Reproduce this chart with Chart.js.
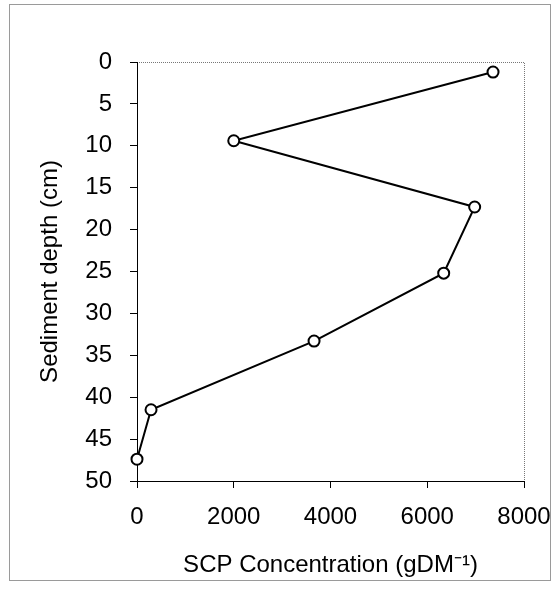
<!DOCTYPE html>
<html>
<head>
<meta charset="utf-8">
<script src="https://cdn.jsdelivr.net/npm/chart.js@4.4.0/dist/chart.umd.min.js"></script>
<style>
  html, body { margin: 0; padding: 0; background: #fff; }
  #wrap { width: 553px; height: 590px; }
</style>
</head>
<body>
<div id="wrap"><canvas id="scpChart" width="553" height="590"></canvas></div>
<script>
// SCP concentration profile
const concentration = [7360, 2000, 6980, 6340, 3660, 290, 0];
const depth = [1.2, 9.4, 17.3, 25.2, 33.3, 41.5, 47.4];
const xTicks = [0, 2000, 4000, 6000, 8000];
const yTicks = [0, 5, 10, 15, 20, 25, 30, 35, 40, 45, 50];

const FONT = 'Arial, "Liberation Sans", sans-serif';

// dotted top/right plot border + outer frame, like the Excel original
const frame = {
  id: 'frame',
  beforeDraw(chart) {
    const c = chart.ctx, a = chart.chartArea;
    c.save();
    c.strokeStyle = '#9a9a9a';
    c.lineWidth = 1;
    c.strokeRect(9.5, 4.5, 541, 576);
    c.strokeStyle = '#777';
    c.setLineDash([1, 1]);
    c.beginPath();
    c.moveTo(a.left, a.top + 0.5);
    c.lineTo(a.right + 0.5, a.top + 0.5);
    c.lineTo(a.right + 0.5, a.bottom);
    c.stroke();
    c.restore();
  }
};

new Chart(document.getElementById('scpChart'), {
  type: 'line',
  data: {
    datasets: [{
      data: concentration.map((v, i) => ({x: v, y: depth[i]})),
      borderColor: '#000',
      borderWidth: 2,
      pointStyle: 'circle',
      pointRadius: 5.5,
      pointBorderWidth: 2,
      pointBorderColor: '#000',
      pointBackgroundColor: '#fff',
      tension: 0,
      fill: false,
      clip: false
    }]
  },
  options: {
    responsive: false,
    animation: false,
    layout: {padding: {left: 10, top: 62, right: 29, bottom: 10}},
    plugins: {legend: {display: false}, tooltip: {enabled: false}},
    scales: {
      x: {
        type: 'linear',
        min: 0, max: 8000,
        afterBuildTicks: s => { s.ticks = xTicks.map(v => ({value: v})); },
        afterFit: s => { s.height = 99; s.paddingLeft = 0; s.paddingRight = 0; },
        grid: {drawOnChartArea: false, color: '#000', tickLength: 7, tickWidth: 1},
        border: {color: '#000', width: 1},
        ticks: {color: '#000', padding: 15, font: {family: FONT, size: 24}, maxRotation: 0,
                callback: v => String(v)},
        title: {display: true, text: 'SCP Concentration (gDM\u207B\u00B9)', color: '#000',
                font: {family: FONT, size: 24}, padding: {top: 9, bottom: 0}}
      },
      y: {
        type: 'linear',
        reverse: true,
        min: 0, max: 50,
        afterBuildTicks: s => { s.ticks = yTicks.map(v => ({value: v})); },
        afterFit: s => { s.width = 127; s.paddingTop = 0; s.paddingBottom = 0; },
        grid: {drawOnChartArea: false, color: '#000', tickLength: 7, tickWidth: 1},
        border: {color: '#000', width: 1},
        ticks: {color: '#000', padding: 18, font: {family: FONT, size: 24},
                callback: v => String(v)},
        title: {display: true, text: 'Sediment depth (cm)', color: '#000',
                font: {family: FONT, size: 24}, padding: {top: 26, bottom: 0}}
      }
    }
  },
  plugins: [frame]
});
</script>
</body>
</html>
